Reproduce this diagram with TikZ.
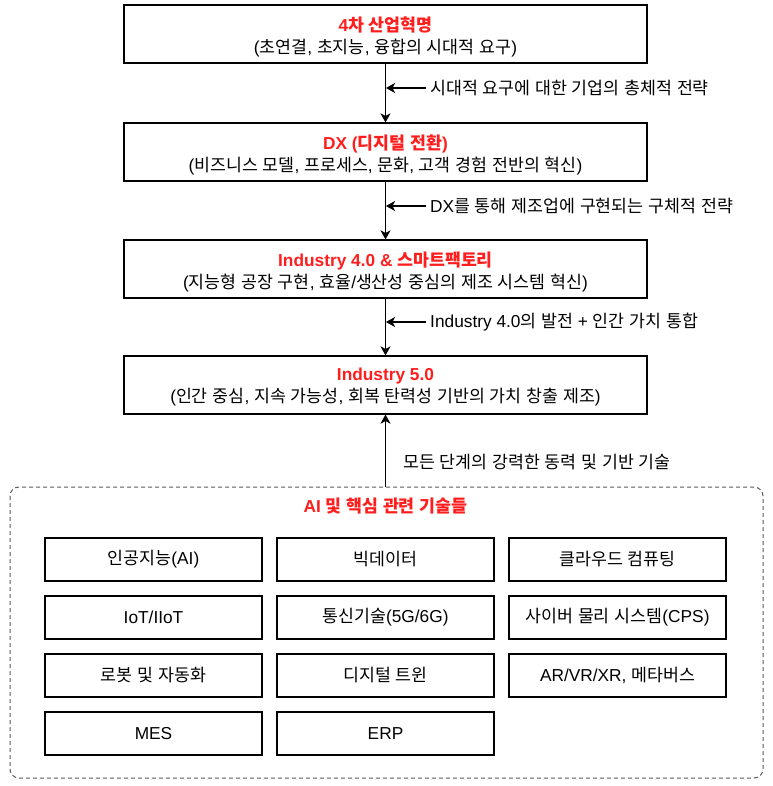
\documentclass[tikz,border=0pt]{standalone}
\usepackage{fontspec}
\setmainfont{Liberation Sans}
\newfontfamily\krf{Noto Sans CJK KR}[Scale=1.0]
\XeTeXinterchartokenstate=1
\newXeTeXintercharclass\KRclass
\makeatletter
\count@="AC00
\loop\ifnum\count@<"D7A4 \XeTeXcharclass\count@=\KRclass \advance\count@ by 1 \repeat
\makeatother
\XeTeXinterchartoks 0 \KRclass = {\begingroup\krf}
\XeTeXinterchartoks 4095 \KRclass = {\begingroup\krf}
\XeTeXinterchartoks \KRclass 0 = {\endgroup}
\XeTeXinterchartoks \KRclass 4095 = {\endgroup}
\usetikzlibrary{arrows.meta}
\definecolor{redt}{RGB}{255,30,30}
\begin{document}
\begin{tikzpicture}[x=1pt,y=-1pt,
  stage/.style={draw=black,line width=1.2pt,minimum width=523pt,minimum height=58pt,inner sep=0pt},
  stagetext/.style={inner sep=0pt,align=center,font=\fontsize{17.3}{22}\selectfont},
  tech/.style={draw=black,line width=1.2pt,minimum width=217pt,minimum height=43pt,inner sep=0pt,font=\fontsize{17.3}{20}\selectfont},
  lbl/.style={anchor=west,inner sep=0pt,font=\fontsize{17.3}{20}\selectfont},
  ttl/.style={text=redt,font=\fontsize{17.3}{20}\selectfont\bfseries},
  arr/.style={-{Stealth[length=9pt,width=10pt,inset=2.5pt]},line width=1.2pt},
  sarr/.style={-{Stealth[length=9pt,width=10pt,inset=2.5pt]},line width=1.2pt}]
\useasboundingbox (0,0) rectangle (772,786);
\node[stage] (s1) at (385.5,34) {};
\node[stage] (s2) at (385.5,152) {};
\node[stage] (s3) at (385.5,269) {};
\node[stage] (s4) at (385.5,385) {};
\node[stagetext] (s1t) at ([yshift=-2.5pt]s1.center) {{\bfseries\color{redt}4차 산업혁명}\\(초연결, 초지능, 융합의 시대적 요구)};
\node[stagetext] (s2t) at ([yshift=-2.5pt]s2.center) {{\bfseries\color{redt}DX (디지털 전환)}\\(비즈니스 모델, 프로세스, 문화, 고객 경험 전반의 혁신)};
\node[stagetext] (s3t) at ([yshift=-2.5pt]s3.center) {{\bfseries\color{redt}Industry 4.0 \& 스마트팩토리}\\(지능형 공장 구현, 효율/생산성 중심의 제조 시스템 혁신)};
\node[stagetext] (s4t) at ([yshift=-2.5pt]s4.center) {{\bfseries\color{redt}Industry 5.0}\\(인간 중심, 지속 가능성, 회복 탄력성 기반의 가치 창출 제조)};
\draw[dash pattern=on 4pt off 3pt,rounded corners=9pt,line width=1pt,draw=black!65] (10,487) rectangle (763,778);
\coordinate (ct) at (385.5,487);
\node[ttl] (ctitle) at (385.5,506) {AI 및 핵심 관련 기술들};
\draw[arr] (s1.south) -- (s2.north);
\draw[arr] (s2.south) -- (s3.north);
\draw[arr] (s3.south) -- (s4.north);
\draw[arr] (ct) -- (s4.south);
\coordinate (a1) at (386,88);
\coordinate (a2) at (386,206);
\coordinate (a3) at (386,322);
\node[lbl] (l1) at (430,88) {시대적 요구에 대한 기업의 총체적 전략};
\node[lbl] (l2) at (430,206) {DX를 통해 제조업에 구현되는 구체적 전략};
\node[lbl] (l3) at (430,322) {Industry 4.0의 발전 + 인간 가치 통합};
\node[lbl] (l4) at (403,462) {모든 단계의 강력한 동력 및 기반 기술};
\draw[sarr] (l1.west) ++(-4,0) -- (a1);
\draw[sarr] (l2.west) ++(-4,0) -- (a2);
\draw[sarr] (l3.west) ++(-4,0) -- (a3);
\node[tech] (t1) at (153.5,559.5) {인공지능(AI)};
\node[tech] (t2) at (385.5,559.5) {빅데이터};
\node[tech] (t3) at (617.5,559.5) {클라우드 컴퓨팅};
\node[tech] (t4) at (153.5,617.5) {IoT/IIoT};
\node[tech] (t5) at (385.5,617.5) {통신기술(5G/6G)};
\node[tech] (t6) at (617.5,617.5) {사이버 물리 시스템(CPS)};
\node[tech] (t7) at (153.5,675.5) {로봇 및 자동화};
\node[tech] (t8) at (385.5,675.5) {디지털 트윈};
\node[tech] (t9) at (617.5,675.5) {AR/VR/XR, 메타버스};
\node[tech] (t10) at (153.5,733.5) {MES};
\node[tech] (t11) at (385.5,733.5) {ERP};
\end{tikzpicture}
\end{document}
